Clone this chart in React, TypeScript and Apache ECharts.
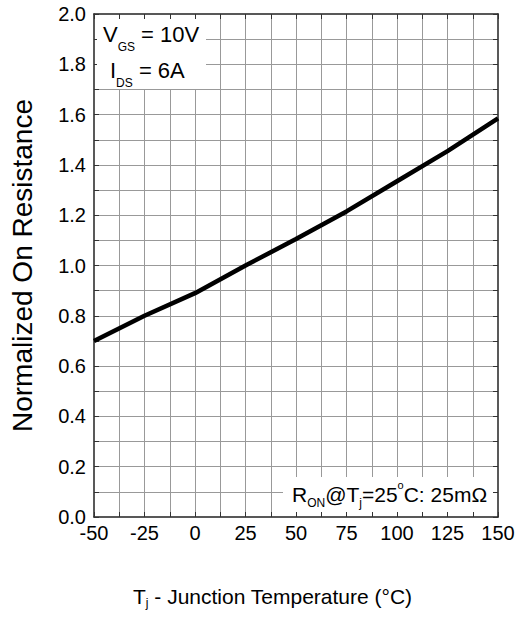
import React, { useEffect, useRef } from 'react';
import * as echarts from 'echarts';

const temperatures = [-50, -25, 0, 25, 50, 75, 100, 125, 150];
const normalizedRon = [0.7, 0.8, 0.89, 1.0, 1.105, 1.215, 1.335, 1.455, 1.585];
const xRange = [-50, 150];
const xStep = 12.5;
const xLabelStep = 25;
const yRange = [0, 2];
const yStep = 0.1;

const FONT = '"Liberation Sans", Arial, Helvetica, sans-serif';

export default function App() {
  const ref = useRef<HTMLDivElement>(null);
  useEffect(() => {
    if (!ref.current) return;
    const chart = echarts.init(ref.current, null, { renderer: 'svg' });
    const axisLine = { show: true, onZero: false, lineStyle: { color: '#222', width: 1.5 } };
    const axisTick = { show: true, inside: true, length: 5, lineStyle: { color: '#333', width: 1 } };
    const xBase = { type: 'value', min: xRange[0], max: xRange[1], interval: xStep };
    const yBase = { type: 'value', min: yRange[0], max: yRange[1], interval: yStep };
    const txt = (size: number, lh: number, extra: any = {}) => ({
      fontSize: size,
      fontFamily: FONT,
      fill: '#000',
      color: '#000',
      lineHeight: lh,
      ...extra,
    });
    chart.setOption({
      animation: false,
      backgroundColor: '#fff',
      grid: { left: 92, right: 20, top: 14, bottom: 102, containLabel: false },
      xAxis: [
        {
          ...xBase,
          position: 'bottom',
          axisLine,
          axisTick,
          axisLabel: {
            fontSize: 20,
            color: '#000',
            fontFamily: FONT,
            margin: 6,
            formatter: (v: number) => (Math.abs(v % xLabelStep) < 1e-6 ? String(v) : ''),
          },
          splitLine: { show: true, showMinLine: false, showMaxLine: false, lineStyle: { color: '#999', width: 1 } },
        },
        {
          ...xBase,
          position: 'top',
          axisLine,
          axisTick,
          axisLabel: { show: false },
          splitLine: { show: false },
        },
      ],
      yAxis: [
        {
          ...yBase,
          position: 'left',
          axisLine,
          axisTick,
          name: 'Normalized On Resistance',
          nameLocation: 'middle',
          nameGap: 58,
          nameTextStyle: { fontSize: 28, color: '#000', fontFamily: FONT },
          axisLabel: {
            fontSize: 20,
            color: '#000',
            fontFamily: FONT,
            margin: 8,
            formatter: (v: number) => (Math.round(v * 10) % 2 === 0 ? v.toFixed(1) : ''),
          },
          splitLine: { show: true, showMinLine: false, showMaxLine: false, lineStyle: { color: '#999', width: 1 } },
        },
        {
          ...yBase,
          position: 'right',
          axisLine,
          axisTick,
          axisLabel: { show: false },
          splitLine: { show: false },
        },
      ],
      series: [
        {
          type: 'line',
          xAxisIndex: 0,
          yAxisIndex: 0,
          data: temperatures.map((t, i) => [t, normalizedRon[i]]),
          showSymbol: false,
          symbol: 'none',
          lineStyle: { color: '#000', width: 4.5 },
          z: 3,
        },
      ],
      graphic: [
        {
          type: 'rect',
          z: 10,
          shape: { x: 97, y: 19, width: 109, height: 70 },
          style: { fill: '#fff' },
        },
        {
          type: 'text',
          z: 11,
          x: 103,
          y: 34.5,
          style: {
            text: '{m|V}{s|GS}{m| = 10V}',
            align: 'left',
            verticalAlign: 'middle',
            fill: '#000',
            rich: {
              m: txt(22, 36),
              s: txt(12, 11, { verticalAlign: 'bottom' }),
            },
          },
        },
        {
          type: 'text',
          z: 11,
          x: 110,
          y: 70.5,
          style: {
            text: '{m|I}{s|DS}{m| = 6A}',
            align: 'left',
            verticalAlign: 'middle',
            fill: '#000',
            rich: {
              m: txt(22, 36),
              s: txt(12, 11, { verticalAlign: 'bottom' }),
            },
          },
        },
        {
          type: 'rect',
          z: 10,
          shape: { x: 283, y: 477, width: 210, height: 35 },
          style: { fill: '#fff' },
        },
        {
          type: 'text',
          z: 11,
          x: 292,
          y: 494,
          style: {
            text: '{m|R}{s|ON}{m|@T}{s|j}{m|=25}{o|o}{m|C: 25mΩ}',
            align: 'left',
            verticalAlign: 'middle',
            fill: '#000',
            rich: {
              m: txt(21, 30),
              s: txt(12, 9, { verticalAlign: 'bottom' }),
              o: txt(11, 20, { verticalAlign: 'top' }),
            },
          },
        },
        {
          type: 'text',
          z: 11,
          x: 133,
          y: 596,
          style: {
            text: '{m|T}{s|j}{m| - Junction Temperature (°C)}',
            align: 'left',
            verticalAlign: 'middle',
            fill: '#000',
            rich: {
              m: txt(21, 26),
              s: txt(12, 12, { verticalAlign: 'bottom' }),
            },
          },
        },
      ],
    });
    return () => chart.dispose();
  }, []);
  return (
    <div
      ref={ref}
      style={{ position: 'absolute', left: 0, top: 0, width: 518, height: 619 }}
    />
  );
}
